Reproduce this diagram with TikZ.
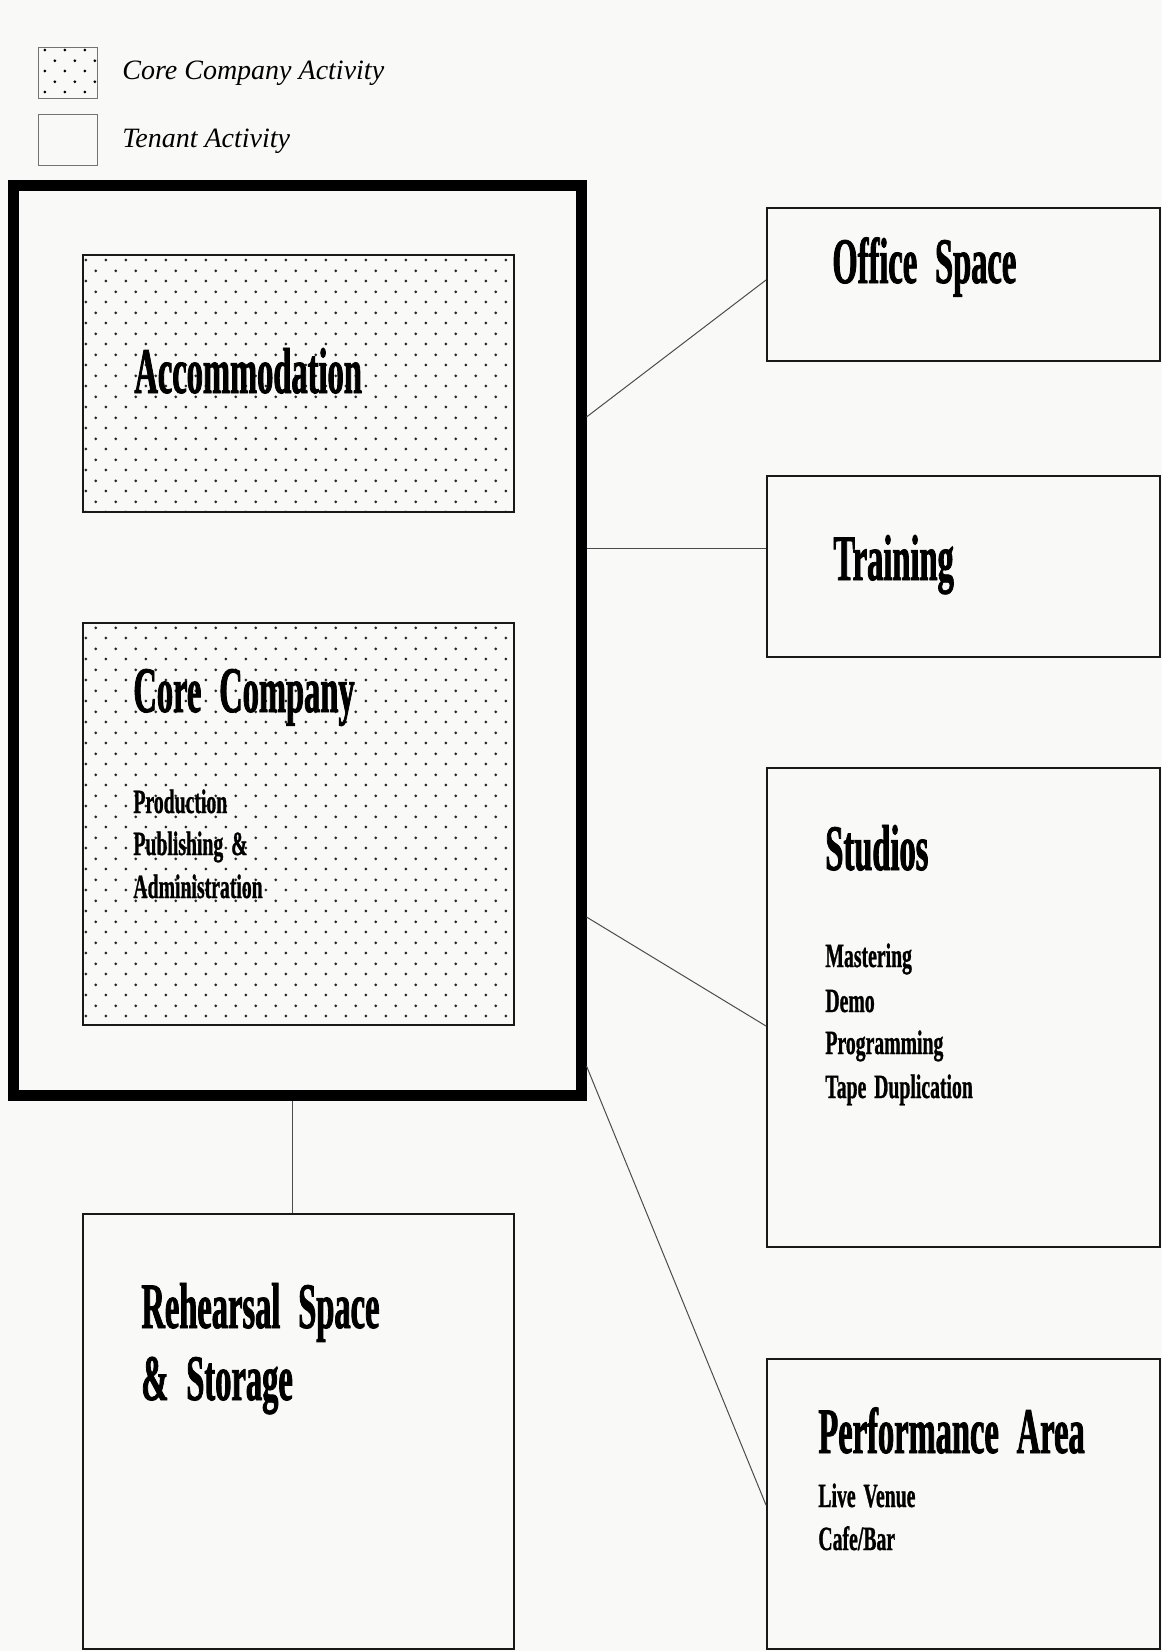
\documentclass[tikz,border=0pt]{standalone}
\usepackage{fontspec}
\setmainfont{Liberation Serif}
\newfontfamily\headfont{Liberation Serif}[FakeStretch=0.5,FakeBold=1.2,WordSpace=2.2]
\newfontfamily\itemfont{Liberation Serif}[FakeStretch=0.58,FakeBold=0.8,WordSpace=1.6]
\usetikzlibrary{patterns,fit}
\definecolor{paper}{RGB}{249,249,247}
\colorlet{box edge}{black!90}
\colorlet{link line}{black!70}
\pgfdeclarepatternformonly{housedots}{\pgfpointorigin}{\pgfpoint{10.2pt}{10.5pt}}{\pgfpoint{10.2pt}{10.5pt}}{%
    \pgfpathcircle{\pgfpoint{2.5pt}{2.6pt}}{0.8pt}%
    \pgfpathcircle{\pgfpoint{7.6pt}{7.9pt}}{0.8pt}%
    \pgfusepath{fill}}
\tikzset{core/.style={draw=box edge, line width=1pt, pattern=housedots, pattern color=black!85, inner sep=0pt},
    tenant/.style={draw=box edge, line width=1pt, inner sep=0pt},
    house/.style={draw=black, line width=5.5pt, inner sep=0pt},
    key/.style={draw=black!55, line width=0.5pt, inner sep=0pt},
    link/.style={draw=link line, line width=0.5pt},
    head/.style={font=\headfont\bfseries\fontsize{32.5}{38}\selectfont, anchor=base west, inner sep=0pt},
    item/.style={font=\itemfont\bfseries\fontsize{17}{20}\selectfont, anchor=base west, inner sep=0pt},
    keytext/.style={font=\itshape\fontsize{14}{17}\selectfont, anchor=base west, inner sep=0pt}}

\begin{document}
\begin{tikzpicture}[x=0.5pt,y=-0.5pt]
    \fill[paper] (0,0) rectangle (1162,1651);
    \useasboundingbox (0,0) rectangle (1162,1651);
    % key
    \node[key, pattern=housedots, fit={(38,47) (97,98)}] (keycore) {};
    \node[key, fit={(38,114) (97,165)}] (keytenant) {};
    \node[keytext] (keycorelabel) at (122,79) {Core Company Activity};
    \node[keytext] (keytenantlabel) at (122,147) {Tenant Activity};

    \node[house, fit={(13.5,185.5) (581,1095)}] (house) {};
    \node[core, fit={(83,255) (514,512)}] (accom) {};
    \node[core, fit={(83,623) (514,1025)}] (company) {};
    \node[tenant, fit={(767,208) (1160,361)}] (office) {};
    \node[tenant, fit={(767,476) (1160,657)}] (training) {};
    \node[tenant, fit={(767,768) (1160,1247)}] (studios) {};
    \node[tenant, fit={(767,1359) (1160,1649)}] (perform) {};
    \node[tenant, fit={(83,1214) (514,1649)}] (rehearsal) {};

    \draw[link] (house.east |- 0,417) -- (office.west |- 0,280);
    \draw[link] (house.east |- 0,548) -- (training.west |- 0,548);
    \draw[link] (house.east |- 0,917) -- (studios.west |- 0,1026);
    \draw[link] (house.east |- 0,1066) -- (perform.west |- 0,1505);
    \draw[link] (house.south -| 292,0) -- (rehearsal.north -| 292,0);

    \node[head] (accomlabel) at (134,393) {Accommodation};
    \node[head] (companylabel) at (133,712) {Core Company};
    \node[item] (production) at (133,813) {Production};
    \node[item] (publishing) at (133,855) {Publishing \&};
    \node[item] (admin) at (133,898) {Administration};
    \node[head] (officelabel) at (832,283) {Office Space};
    \node[head] (traininglabel) at (833,580) {Training};
    \node[head] (studioslabel) at (825,870) {Studios};
    \node[item] (mastering) at (825,967) {Mastering};
    \node[item] (demo) at (825,1012) {Demo};
    \node[item] (programming) at (825,1054) {Programming};
    \node[item] (tapedup) at (825,1098) {Tape Duplication};
    \node[head] (performlabel) at (818,1453) {Performance Area};
    \node[item] (venue) at (818,1507) {Live Venue};
    \node[item] (cafe) at (818,1550) {Cafe/Bar};
    \node[head] (rehearsallabel) at (141,1328) {Rehearsal Space};
    \node[head] (storagelabel) at (141,1400) {\& Storage};
\end{tikzpicture}
\end{document}
